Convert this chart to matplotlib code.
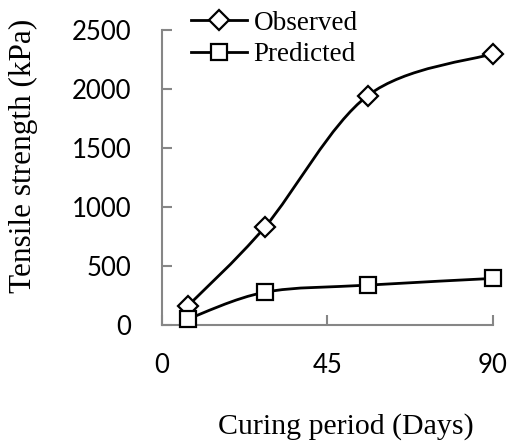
import numpy as np
import matplotlib.pyplot as plt
from matplotlib.path import Path
from matplotlib.patches import PathPatch
from matplotlib.lines import Line2D

# Curing period (days) and tensile strength (kPa)
days = [7, 28, 56, 90]
observed = [160, 830, 1945, 2300]
predicted = [50, 278, 338, 395]

AXIS_GREY = '#868686'
SERIF = 'Liberation Serif'
SANS = 'Lato'


def smooth_path(xs, ys):
    """Catmull-Rom style Bezier through the points (like a spreadsheet smoothed line)."""
    pts = np.column_stack([xs, ys]).astype(float)
    n = len(pts)
    verts = [pts[0]]
    codes = [Path.MOVETO]
    for i in range(n - 1):
        p0 = pts[i - 1] if i > 0 else pts[i]
        p1 = pts[i]
        p2 = pts[i + 1]
        p3 = pts[i + 2] if i + 2 < n else pts[i + 1]
        c1 = p1 + (p2 - p0) / 6.0
        c2 = p2 - (p3 - p1) / 6.0
        verts += [c1, c2, p2]
        codes += [Path.CURVE4] * 3
    return Path(verts, codes)


fig = plt.figure(figsize=(5.09, 4.46), dpi=100)
ax = fig.add_axes([0.318, 0.2713, 0.6506, 0.6614])

for ys, marker, ms in [(observed, 'D', 10), (predicted, 's', 11.5)]:
    ax.add_patch(PathPatch(smooth_path(days, ys), facecolor='none',
                           edgecolor='black', linewidth=2, zorder=2))
    ax.plot(days, ys, linestyle='none', marker=marker, markersize=ms,
            markerfacecolor='white', markeredgecolor='black',
            markeredgewidth=1.6, zorder=3, clip_on=False)

ax.set_xlim(0, 90)
ax.set_ylim(0, 2500)
ax.set_xticks([0, 45, 90])
ax.set_yticks(range(0, 2501, 500))

for side in ['top', 'right']:
    ax.spines[side].set_visible(False)
for side in ['left', 'bottom']:
    ax.spines[side].set_color(AXIS_GREY)
    ax.spines[side].set_linewidth(1.5)

ax.tick_params(direction='in', length=7, width=1.5, color=AXIS_GREY,
               labelsize=18.5, pad=20)
ax.tick_params(axis='y', pad=22)
for lab in ax.get_xticklabels() + ax.get_yticklabels():
    lab.set_family(SANS)

fig.text(345.5 / 509, 1 - 427 / 446, 'Curing period (Days)', family=SERIF,
         fontsize=21.5, ha='center', va='center')
fig.text(23 / 509, 1 - 156 / 446, 'Tensile strength (kPa)', family=SERIF,
         fontsize=22.5, ha='center', va='center', rotation=90)

handles = [
    Line2D([], [], color='black', linewidth=2, marker='D', markersize=10,
           markerfacecolor='white', markeredgecolor='black', markeredgewidth=1.6),
    Line2D([], [], color='black', linewidth=2, marker='s', markersize=11.5,
           markerfacecolor='white', markeredgecolor='black', markeredgewidth=1.6),
]
fig.legend(handles, ['Observed', 'Predicted'], loc='upper left',
           bbox_to_anchor=(0.333, 1.025), frameon=False, handlelength=2.05,
           handletextpad=0.25, labelspacing=0.25, borderpad=0.3,
           prop={'family': SERIF, 'size': 19.5})

fig.savefig('out.png', dpi=100)
